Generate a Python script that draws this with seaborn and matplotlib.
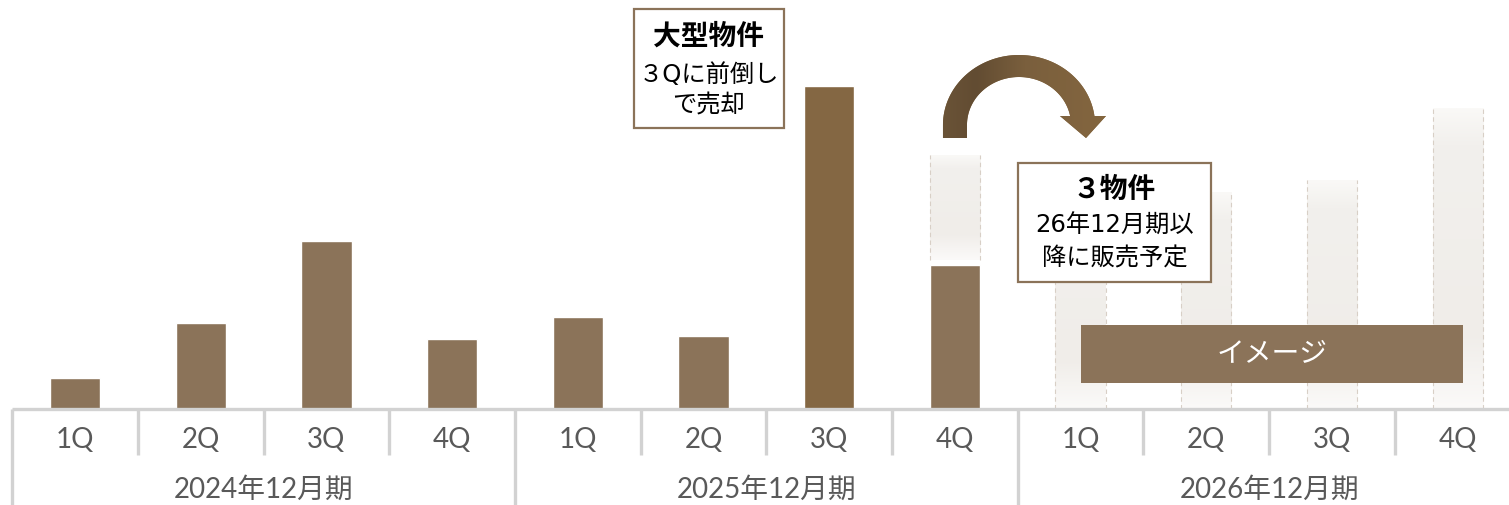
import numpy as np
import pandas as pd
import matplotlib
matplotlib.use("Agg")
import matplotlib.pyplot as plt
import seaborn as sns
from matplotlib.patches import Rectangle, PathPatch
from matplotlib.path import Path
from matplotlib.colors import to_rgba

sns.set_theme(style="white")
plt.rcParams["font.family"] = ["Noto Sans CJK JP", "DejaVu Sans"]
AXIS_FONT = ["Lato", "Noto Sans CJK JP"]
BOX_FONT = ["DejaVu Sans", "Noto Sans CJK JP"]

# ---- data -------------------------------------------------------------
fiscal_years = ["2024年12月期", "2025年12月期", "2026年12月期"]
quarters = ["1Q", "2Q", "3Q", "4Q"]
slots = [f"{fy}-{q}" for fy in fiscal_years for q in quarters]

actual_slots = slots[:8]
actual_sales = [31, 86, 168, 70, 92, 73, 323, 144]

# planned totals (image only): 2025 4Q and the four 2026 quarters
planned_slots = slots[7:]
planned_sales = [254, 196, 217, 229, 301]

# ---- styling ----------------------------------------------------------
BAR = "#8B7359"
BAR_DARK = "#846743"
AXIS = "#D2D2D2"
LABEL = "#595959"
GHOST_EDGE = "#D8CFC6"

fig = plt.figure(figsize=(15.09, 5.05), dpi=100)
ax = fig.add_axes([0, 0, 1, 1])

# actual results
colors = [BAR] * len(actual_slots)
colors[6] = BAR_DARK
df_act = pd.DataFrame({"slot": actual_slots, "sales": actual_sales})
sns.barplot(data=df_act, x="slot", y="sales", order=slots, hue="slot",
            palette=dict(zip(actual_slots, colors)), legend=False,
            width=0.4, saturation=1, errorbar=None, ax=ax, zorder=3)

# planned bars (faded, dashed sides)
gap = 5
n0 = len(ax.patches)
ghost_bottom = actual_sales[7] + gap
sns.barplot(x=[planned_slots[0]], y=[planned_sales[0] - ghost_bottom], order=slots,
            bottom=ghost_bottom, color="#F2EFEB", width=0.4, saturation=1,
            errorbar=None, ax=ax, zorder=2)
sns.barplot(x=planned_slots[1:], y=planned_sales[1:], order=slots,
            color="#F2EFEB", width=0.4, saturation=1, errorbar=None, ax=ax, zorder=2)
ghost_patches = ax.patches[n0:]

stops = [(0.0, "#FAF9F7"), (0.12, "#F2F0ED"), (0.75, "#F0EDE9"), (1.0, "#FBFAF9")]
ys = np.linspace(0, 1, 256)
grad = np.zeros((256, 1, 4))
pos = [s[0] for s in stops]
cols = np.array([to_rgba(s[1]) for s in stops])
for c in range(4):
    grad[:, 0, c] = np.interp(ys, pos, cols[:, c])
# image rows run bottom-to-top with origin="lower", so flip
grad = grad[::-1]

for p in ghost_patches:
    x0, y0, w, h = p.get_x(), p.get_y(), p.get_width(), p.get_height()
    im = ax.imshow(grad, extent=(x0, x0 + w, y0, y0 + h), aspect="auto",
                   origin="lower", zorder=2.1, interpolation="bilinear")
    im.set_clip_path(p)
    ax.vlines([x0, x0 + w], y0, y0 + h, colors=GHOST_EDGE, linewidth=0.8,
              linestyles=(0, (4, 3)), zorder=2.2)

# ---- category axis ----------------------------------------------------
n = len(slots)
ax.hlines(0, -0.5, n - 0.5, colors=AXIS, linewidth=2.4, zorder=4)
for i in range(n + 1):
    xb = i - 0.5
    if i % 4 == 0:
        ax.vlines(xb, -100, 0, colors=AXIS, linewidth=2.4, zorder=4)
    else:
        ax.vlines(xb, -46, 0, colors=AXIS, linewidth=2.4, zorder=4)
for i, s in enumerate(slots):
    ax.text(i, -31, s.split("-")[1], ha="center", va="center",
            fontsize=20, color=LABEL, family=AXIS_FONT)
for k, fy in enumerate(fiscal_years):
    ax.text(4 * k + 1.5, -81, fy, ha="center", va="center",
            fontsize=20, color=LABEL, family=AXIS_FONT)

# ---- callout boxes ----------------------------------------------------
def callout(x0, x1, y0, y1, lines, ys_):
    ax.add_patch(Rectangle((x0, y0), x1 - x0, y1 - y0, facecolor="white",
                           edgecolor=BAR, linewidth=1.6, zorder=6))
    xc = (x0 + x1) / 2
    for j, (txt, yy) in enumerate(zip(lines, ys_)):
        ax.text(xc, yy, txt, ha="center", va="center", color="black",
                fontsize=20 if j == 0 else 17.5, family=BOX_FONT,
                fontweight="bold" if j == 0 else "normal", zorder=7)

callout(4.447, 5.640, 281, 400, ["大型物件", "３Qに前倒し", "で売却"], [372, 334, 303])
callout(7.502, 9.037, 127, 246, ["３物件", "26年12月期以", "降に販売予定"], [219, 183, 150])

# "image" banner
ax.add_patch(Rectangle((8.003, 26), 11.042 - 8.003, 58, facecolor=BAR,
                       edgecolor="none", zorder=6))
ax.text((8.003 + 11.042) / 2, 55, "イメージ", ha="center", va="center",
        color="white", fontsize=20, zorder=7)

# ---- curved arrow from 2025 4Q to 2026 ---------------------------------
cx, cy = 7.51, 284
a_out, a_in = 0.605, 0.414
b_out, b_in = 70, 48
leg_bottom = 271
head_y = 293
head_l, head_r, tip = 7.836, 8.202, (8.043, 271)
t_out = np.linspace(np.pi, np.arcsin((head_y - cy) / b_out), 90)
t_in = np.linspace(np.arcsin((head_y - cy) / b_in), np.pi, 90)
outer = np.column_stack([cx + a_out * np.cos(t_out), cy + b_out * np.sin(t_out)])
inner = np.column_stack([cx + a_in * np.cos(t_in), cy + b_in * np.sin(t_in)])
verts = ([(cx - a_out, leg_bottom)] + outer.tolist()
         + [(head_r, head_y), tip, (head_l, head_y)]
         + inner.tolist() + [(cx - a_in, leg_bottom), (cx - a_out, leg_bottom)])
codes = [Path.MOVETO] + [Path.LINETO] * (len(verts) - 2) + [Path.CLOSEPOLY]
arrow = PathPatch(Path(verts, codes), facecolor="#84663F", edgecolor="none", zorder=5)
ax.add_patch(arrow)
acols = np.array([to_rgba(c) for c in ["#6A5337", "#624C32", "#7A5F3D", "#84663F"]])
apos = [0.0, 0.2, 0.5, 1.0]
xs = np.linspace(0, 1, 256)
agrad = np.zeros((1, 256, 4))
for c in range(4):
    agrad[0, :, c] = np.interp(xs, apos, acols[:, c])
aim = ax.imshow(agrad, extent=(cx - a_out, head_r, leg_bottom, cy + b_out),
                aspect="auto", origin="lower", zorder=5.1, interpolation="bilinear")
aim.set_clip_path(arrow)

# ---- frame --------------------------------------------------------------
ax.set_xlim(-75 / 125.7, (1509 - 75) / 125.7)
ax.set_ylim(409 - 505, 409)
ax.axis("off")

fig.savefig("out.png", dpi=100, facecolor="white")
